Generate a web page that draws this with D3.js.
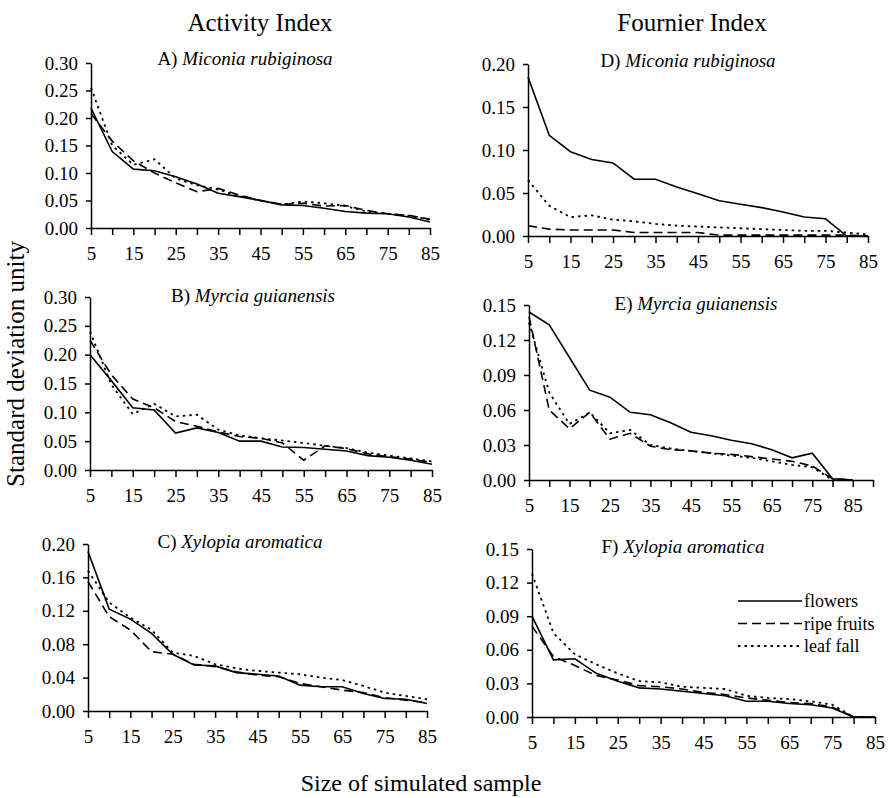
<!DOCTYPE html>
<html>
<head>
<meta charset="utf-8">
<script src="https://cdn.jsdelivr.net/npm/d3@7"></script>
<style>
  body { margin: 0; background: #fff; }
  svg, svg text { font-family: "Liberation Serif", "Times New Roman", serif; }
</style>
</head>
<body>
<div id="chart"></div>
<script>
// sample sizes on the x axis
const sizes = [5, 10, 15, 20, 25, 30, 35, 40, 45, 50, 55, 60, 65, 70, 75, 80, 85];
const seriesNames = ["flowers", "ripe fruits", "leaf fall"];

// Activity index
const aFlowers = [0.218, 0.139, 0.107, 0.104, 0.093, 0.080, 0.063, 0.057, 0.050, 0.042, 0.041, 0.036, 0.030, 0.027, 0.026, 0.020, 0.011];
const aRipe    = [0.208, 0.158, 0.122, 0.100, 0.082, 0.066, 0.072, 0.060, 0.050, 0.043, 0.045, 0.040, 0.041, 0.032, 0.026, 0.023, 0.016];
const aLeaf    = [0.255, 0.150, 0.115, 0.125, 0.090, 0.078, 0.070, 0.058, 0.050, 0.043, 0.048, 0.045, 0.040, 0.030, 0.026, 0.022, 0.015];

const bFlowers = [0.200, 0.155, 0.108, 0.104, 0.064, 0.073, 0.065, 0.050, 0.050, 0.040, 0.039, 0.036, 0.033, 0.025, 0.022, 0.017, 0.010];
const bRipe    = [0.225, 0.165, 0.123, 0.108, 0.084, 0.076, 0.066, 0.058, 0.055, 0.047, 0.017, 0.042, 0.037, 0.028, 0.023, 0.019, 0.013];
const bLeaf    = [0.240, 0.148, 0.097, 0.115, 0.093, 0.096, 0.070, 0.060, 0.055, 0.051, 0.047, 0.042, 0.038, 0.030, 0.025, 0.020, 0.015];

const cFlowers = [0.191, 0.122, 0.110, 0.093, 0.068, 0.055, 0.054, 0.046, 0.044, 0.042, 0.031, 0.029, 0.029, 0.021, 0.015, 0.014, 0.009];
const cRipe    = [0.155, 0.113, 0.097, 0.071, 0.068, 0.056, 0.053, 0.047, 0.043, 0.041, 0.033, 0.029, 0.025, 0.022, 0.016, 0.013, 0.010];
const cLeaf    = [0.168, 0.130, 0.112, 0.097, 0.070, 0.066, 0.056, 0.051, 0.048, 0.046, 0.044, 0.040, 0.037, 0.030, 0.022, 0.018, 0.014];

// Fournier index
const dFlowers = [0.185, 0.117, 0.098, 0.089, 0.085, 0.066, 0.066, 0.057, 0.049, 0.041, 0.037, 0.033, 0.028, 0.022, 0.020, 0.000, 0.000];
const dRipe    = [0.012, 0.008, 0.007, 0.007, 0.007, 0.004, 0.004, 0.004, 0.004, 0.001, 0.001, 0.001, 0.001, 0.001, 0.001, 0.001, 0.000];
const dLeaf    = [0.065, 0.035, 0.022, 0.024, 0.019, 0.017, 0.014, 0.012, 0.011, 0.010, 0.009, 0.008, 0.007, 0.006, 0.006, 0.004, 0.002];

const eFlowers = [0.144, 0.133, 0.105, 0.077, 0.071, 0.058, 0.056, 0.049, 0.041, 0.038, 0.034, 0.031, 0.026, 0.019, 0.023, 0.001, 0.000];
const eRipe    = [0.140, 0.060, 0.044, 0.058, 0.035, 0.040, 0.029, 0.026, 0.025, 0.023, 0.022, 0.020, 0.018, 0.016, 0.012, 0.001, 0.000];
const eLeaf    = [0.135, 0.075, 0.048, 0.058, 0.040, 0.043, 0.030, 0.027, 0.025, 0.023, 0.021, 0.019, 0.016, 0.013, 0.011, 0.000, 0.000];

const fFlowers = [0.090, 0.051, 0.052, 0.039, 0.032, 0.026, 0.025, 0.023, 0.021, 0.019, 0.014, 0.014, 0.012, 0.011, 0.008, 0.000, 0.000];
const fRipe    = [0.081, 0.054, 0.046, 0.037, 0.033, 0.028, 0.027, 0.025, 0.022, 0.020, 0.017, 0.015, 0.013, 0.012, 0.009, 0.000, 0.000];
const fLeaf    = [0.128, 0.075, 0.056, 0.047, 0.039, 0.032, 0.031, 0.027, 0.026, 0.025, 0.019, 0.017, 0.016, 0.014, 0.011, 0.000, 0.000];

const panels = [
  { label: "A)", species: "Miconia rubiginosa", series: [aFlowers, aRipe, aLeaf], yMax: 0.30, yStep: 0.05, xMax: 85,
    box: { left: 91, right: 430, top: 63, bottom: 228 }, tx: 245, ty: 65 },
  { label: "B)", species: "Myrcia guianensis", series: [bFlowers, bRipe, bLeaf], yMax: 0.30, yStep: 0.05, xMax: 85,
    box: { left: 90, right: 432, top: 297, bottom: 470 }, tx: 253, ty: 302 },
  { label: "C)", species: "Xylopia aromatica", series: [cFlowers, cRipe, cLeaf], yMax: 0.20, yStep: 0.04, xMax: 85,
    box: { left: 88, right: 427, top: 544, bottom: 711 }, tx: 240, ty: 548 },
  { label: "D)", species: "Miconia rubiginosa", series: [dFlowers, dRipe, dLeaf], yMax: 0.20, yStep: 0.05, xMax: 85,
    box: { left: 528, right: 868, top: 64, bottom: 236 }, tx: 688, ty: 67 },
  { label: "E)", species: "Myrcia guianensis", series: [eFlowers, eRipe, eLeaf], yMax: 0.15, yStep: 0.03, xMax: 90,
    box: { left: 529, right: 873, top: 305, bottom: 480 }, tx: 696, ty: 310 },
  { label: "F)", species: "Xylopia aromatica", series: [fFlowers, fRipe, fLeaf], yMax: 0.15, yStep: 0.03, xMax: 85,
    box: { left: 532, right: 875, top: 549, bottom: 717 }, tx: 683, ty: 553 }
];

const dashes = [null, "9,5", "2.5,4"];
const serif = '"Liberation Serif", "Times New Roman", serif';

const width = 889, height = 798;
const svg = d3.select("#chart").append("svg")
  .attr("width", width)
  .attr("height", height);

// column titles
svg.append("text").attr("x", 260).attr("y", 31).attr("text-anchor", "middle")
  .attr("font-size", 25).text("Activity Index");
svg.append("text").attr("x", 692).attr("y", 31).attr("text-anchor", "middle")
  .attr("font-size", 25).text("Fournier Index");

// axis titles
svg.append("text").attr("transform", "translate(24,364) rotate(-90)")
  .attr("text-anchor", "middle").attr("font-size", 25).text("Standard deviation unity");
svg.append("text").attr("x", 421).attr("y", 791).attr("text-anchor", "middle")
  .attr("font-size", 24).text("Size of simulated sample");

panels.forEach(p => {
  const b = p.box;
  const x = d3.scaleLinear().domain([5, p.xMax]).range([b.left, b.right]);
  const y = d3.scaleLinear().domain([0, p.yMax]).range([b.bottom, b.top]);
  const g = svg.append("g");

  const xTicks = d3.range(5, p.xMax + 0.1, 5);
  g.append("g")
    .attr("transform", `translate(0,${b.bottom})`)
    .call(d3.axisBottom(x).tickValues(xTicks).tickSizeInner(7).tickSizeOuter(0).tickPadding(12)
      .tickFormat(d => (d - 5) % 10 === 0 && d <= 85 ? d : ""));

  const yTicks = d3.range(0, p.yMax + p.yStep / 2, p.yStep);
  g.append("g")
    .attr("transform", `translate(${b.left},0)`)
    .call(d3.axisLeft(y).tickValues(yTicks).tickSizeInner(5).tickSizeOuter(0).tickPadding(8)
      .tickFormat(d3.format(".2f")));

  g.selectAll("g").attr("font-family", null).attr("font-size", null);
  g.selectAll(".domain, .tick line").attr("stroke", "#000").attr("stroke-width", 1.5);
  g.selectAll(".tick text").style("font-family", serif).style("font-size", "19px").attr("fill", "#000");

  const line = d3.line().x((d, i) => x(sizes[i])).y(d => y(d));
  p.series.forEach((s, k) => {
    g.append("path")
      .datum(s)
      .attr("fill", "none")
      .attr("stroke", "#000")
      .attr("stroke-width", k === 2 ? 1.8 : 1.6)
      .attr("stroke-dasharray", dashes[k])
      .attr("d", line);
  });

  const t = g.append("text").attr("x", p.tx).attr("y", p.ty)
    .attr("text-anchor", "middle").attr("font-size", 19);
  t.append("tspan").text(p.label + " ");
  t.append("tspan").attr("font-style", "italic").text(p.species);
});

// legend in panel F
const legend = svg.append("g");
seriesNames.forEach((name, k) => {
  const ly = 601 + k * 22.5;
  legend.append("line")
    .attr("x1", 738).attr("x2", 802).attr("y1", ly).attr("y2", ly)
    .attr("stroke", "#000").attr("stroke-width", k === 2 ? 1.8 : 1.6)
    .attr("stroke-dasharray", dashes[k]);
  legend.append("text").attr("x", 804).attr("y", ly + 6)
    .attr("font-size", 18).text(name);
});
</script>
</body>
</html>
